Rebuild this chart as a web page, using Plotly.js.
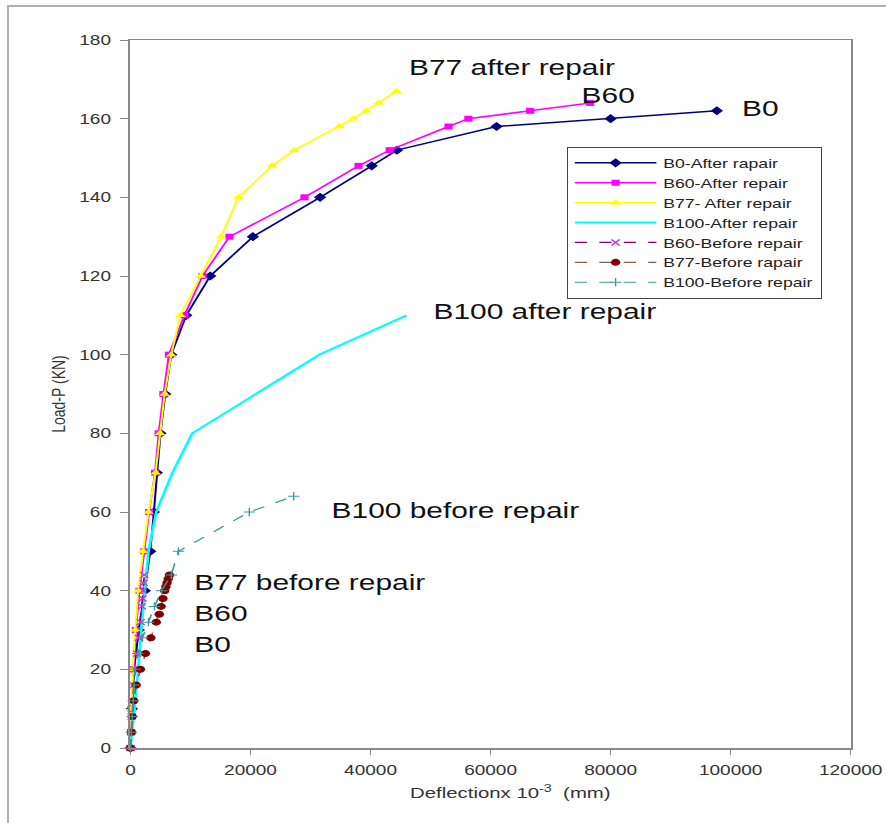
<!DOCTYPE html>
<html>
<head>
<meta charset="utf-8">
<script src="https://cdn.plot.ly/plotly-3.0.1.min.js"></script>
<style>
  html, body { margin: 0; padding: 0; background: #fff; overflow: hidden; }
  #wrap { position: relative; width: 886px; height: 823px; overflow: hidden; }
  #chart { position: absolute; left: 0; top: 0; width: 652px; height: 823px; transform-origin: 0 0; }
  #frame { position: absolute; left: 7px; top: 5px; width: 900px; height: 900px;
           border-left: 2px solid #b0b0b0; border-top: 2px solid #b0b0b0; pointer-events: none; }
</style>
</head>
<body>
<div id="wrap">
  <div id="chart"></div>
  <div id="frame"></div>
</div>
<script>
// ---- data (deflection x10^-3 mm, load kN) ----
const b0AfterX   = [0, 250, 600, 1400, 2400, 3300, 3900, 4400, 5000, 5800, 6800, 9300, 13300, 20400, 31600, 40200, 44400, 61000, 80000, 97700];
const b0AfterY   = [0, 10, 20, 30, 40, 50, 60, 70, 80, 90, 100, 110, 120, 130, 140, 148, 152, 158, 160, 162];

const b60AfterX  = [0, 200, 500, 900, 1500, 2300, 3100, 4100, 4700, 5500, 6400, 9000, 12000, 16500, 29000, 38000, 43200, 53000, 56300, 66600, 76600];
const b60AfterY  = [0, 10, 20, 30, 40, 50, 60, 70, 80, 90, 100, 110, 120, 130, 140, 148, 152, 158, 160, 162, 164];

const b77AfterX  = [0, 150, 400, 800, 1300, 2100, 3000, 4200, 4900, 5700, 6800, 8300, 11700, 15100, 18000, 23600, 27300, 34800, 37100, 39300, 41300, 44300];
const b77AfterY  = [0, 10, 20, 30, 40, 50, 60, 70, 80, 90, 100, 110, 120, 130, 140, 148, 152, 158, 160, 162, 164, 167];

const b100AfterX = [0, 700, 1300, 1800, 2400, 3000, 4300, 7000, 10300, 20900, 31500, 46000];
const b100AfterY = [0, 10, 20, 30, 40, 50, 60, 70, 80, 90, 100, 110];

const b60BeforeX = [0, 100, 200, 350, 550, 800, 1100, 1400, 1700, 1900, 2000, 2100, 2200, 2300];
const b60BeforeY = [0, 4, 8, 12, 16, 20, 24, 28, 32, 36, 38, 40, 42, 44];

const b77BeforeX = [0, 170, 300, 550, 950, 1650, 2500, 3400, 4300, 4800, 5100, 5400, 5700, 5900, 6100, 6300, 6500];
const b77BeforeY = [0, 4, 8, 12, 16, 20, 24, 28, 32, 34, 36, 38, 40, 41, 42, 43, 44];

const b100BeforeX = [0, 150, 300, 450, 600, 800, 1200, 2000, 3000, 4000, 5200, 6800, 8000, 19800, 27200];
const b100BeforeY = [0, 4, 8, 12, 16, 20, 24, 28, 32, 36, 40, 44, 50, 60, 64];

const seriesNames = ['B0-After rapair', 'B60-After repair', 'B77- After repair', 'B100-After repair',
                     'B60-Before repair', 'B77-Before rapair', 'B100-Before repair'];

const xTicks = [0, 20000, 40000, 60000, 80000, 100000, 120000];
const yTicks = [0, 20, 40, 60, 80, 100, 120, 140, 160, 180];

const labelTexts = ['B77 after repair', 'B60', 'B0', 'B100 after repair', 'B100 before repair',
                    'B77 before repair', 'B60', 'B0'];
const labelX = [46000, 74800, 101500, 50000, 33000, 10300, 10300, 10300];
const labelY = [172.9, 165.8, 162.7, 110.9, 60.5, 42, 34.3, 26.2];

// ---- geometry: the reference is horizontally stretched ----
const S = 886 / 652;
document.getElementById('chart').style.transform = 'scale(' + S + ',1)';

const FONT = 'Arial, "Liberation Sans", sans-serif';

const traces = [
  { x: b0AfterX, y: b0AfterY, name: seriesNames[0], mode: 'lines+markers',
    line: { color: '#000080', width: 1.5 }, marker: { symbol: 'diamond', size: 7, color: '#000080' } },
  { x: b60AfterX, y: b60AfterY, name: seriesNames[1], mode: 'lines+markers',
    line: { color: '#FF00FF', width: 1.5 }, marker: { symbol: 'square', size: 6, color: '#FF00FF' } },
  { x: b77AfterX, y: b77AfterY, name: seriesNames[2], mode: 'lines+markers',
    line: { color: '#FFFF00', width: 1.5 }, marker: { symbol: 'triangle-up', size: 7, color: '#FFFF00' } },
  { x: b100AfterX, y: b100AfterY, name: seriesNames[3], mode: 'lines',
    line: { color: '#00FFFF', width: 2 } },
  { x: b60BeforeX, y: b60BeforeY, name: seriesNames[4], mode: 'lines+markers',
    line: { color: '#800080', width: 1.2, dash: 'dash' },
    marker: { symbol: 'x-thin', size: 6, color: '#CC33CC', line: { color: '#CC33CC', width: 1.2 } } },
  { x: b77BeforeX, y: b77BeforeY, name: seriesNames[5], mode: 'lines+markers',
    line: { color: '#7f6050', width: 1.2, dash: 'dash' },
    marker: { symbol: 'circle', size: 7, color: '#800000' } },
  { x: b100BeforeX, y: b100BeforeY, name: seriesNames[6], mode: 'lines+markers',
    line: { color: '#3a9a9a', width: 1.2, dash: 'dash' },
    marker: { symbol: 'cross-thin', size: 6, color: '#3a9a9a', line: { color: '#3a9a9a', width: 1 } } }
].map(t => Object.assign({ type: 'scatter', cliponaxis: false }, t));

const annotations = labelTexts.map((t, i) => ({
  x: labelX[i], y: labelY[i], xref: 'x', yref: 'y', text: t, showarrow: false,
  xanchor: 'left', yanchor: 'middle', font: { family: FONT, size: 22, color: '#111' }
}));

const layout = {
  width: 652, height: 823,
  margin: { l: 95.7, r: 25.8, t: 40, b: 75 },
  paper_bgcolor: 'rgba(0,0,0,0)', plot_bgcolor: '#fff',
  font: { family: FONT, color: '#333' },
  showlegend: true,
  legend: {
    x: 0.6057, y: 0.849, xanchor: 'left', yanchor: 'top',
    bgcolor: '#fff', bordercolor: '#444', borderwidth: 1,
    font: { family: FONT, size: 13, color: '#222' },
    itemwidth: 60, tracegroupgap: 0
  },
  xaxis: {
    range: [0, 120000], tickvals: xTicks, tickformat: 'd', showgrid: false, zeroline: false,
    showline: true, mirror: true, linecolor: '#888', linewidth: 1.5,
    ticks: 'outside', ticklen: 5, tickcolor: '#888', tickwidth: 1,
    tickfont: { family: FONT, size: 14, color: '#333' }, ticklabelstandoff: 4,
    title: { text: '&nbsp;&nbsp;&nbsp;&nbsp;&nbsp;&nbsp;&nbsp;Deflectionx 10<sup>-3</sup>  (mm)', font: { family: FONT, size: 15, color: '#333' }, standoff: 10 }
  },
  yaxis: {
    range: [0, 180], tickvals: yTicks, showgrid: false, zeroline: false,
    showline: true, mirror: true, linecolor: '#888', linewidth: 1.5,
    ticks: 'outside', ticklen: 6, tickcolor: '#888', tickwidth: 1,
    tickfont: { family: FONT, size: 14, color: '#333' }, ticklabelstandoff: 4,
    title: { text: 'Load-P (KN)', font: { family: FONT, size: 14, color: '#333' }, standoff: 6 }
  },
  annotations: annotations
};

Plotly.newPlot('chart', traces, layout, { displayModeBar: false, staticPlot: true });
</script>
</body>
</html>
